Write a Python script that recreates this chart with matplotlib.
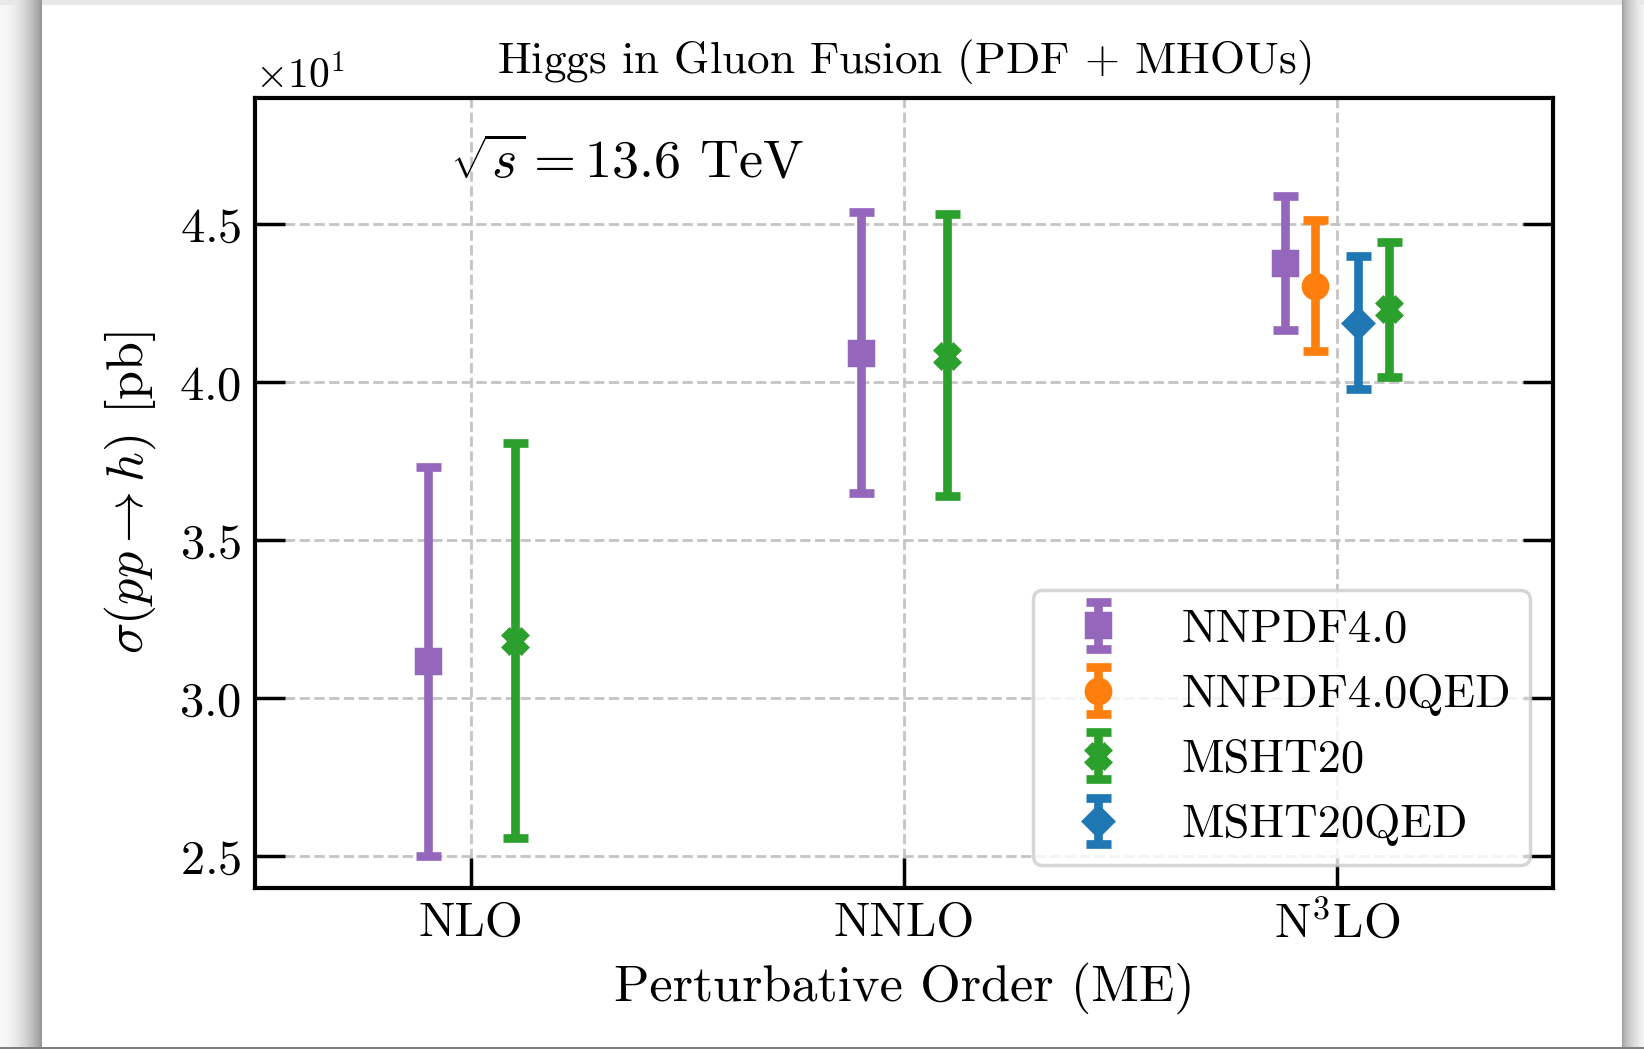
import numpy as np
import matplotlib
matplotlib.use('Agg')
import matplotlib.pyplot as plt
from matplotlib.ticker import ScalarFormatter, MultipleLocator

plt.rcParams['font.family'] = 'serif'
plt.rcParams['font.serif'] = ['cmr10']
plt.rcParams['mathtext.fontset'] = 'cm'
plt.rcParams['axes.formatter.use_mathtext'] = True
plt.rcParams['axes.unicode_minus'] = False

# perturbative orders on the x axis
orders = ['NLO', 'NNLO', r'N$^3$LO']

# cross sections [pb]: central value, upper and lower edge of the band
nnpdf40 = [31.18, 40.93, 43.78]
nnpdf40_up = [37.33, 45.40, 45.90]
nnpdf40_dn = [25.02, 36.50, 41.66]

msht20 = [31.81, 40.82, 42.32]
msht20_up = [38.07, 45.33, 44.45]
msht20_dn = [25.57, 36.42, 40.16]

# QED sets only at N3LO
nnpdf40qed = [43.06]
nnpdf40qed_up = [45.14]
nnpdf40qed_dn = [40.99]

msht20qed = [41.88]
msht20qed_up = [43.99]
msht20qed_dn = [39.80]

W, H, DPI = 1644, 1049, 250


def card_background():
    # white card with a soft grey shadow round it
    bg = np.ones((H, W, 3))
    t = np.linspace(0, 1, 42)
    bg[:, :42, :] = (0.97 - 0.38 * t ** 2)[None, :, None]
    t = np.linspace(0, 1, 22)
    bg[:, 1622:, :] = (0.62 + 0.34 * t ** 0.6)[None, :, None]
    bg[:5, :, :] = np.minimum(bg[:5, :, :], 0.91)
    bg[-2:, :, :] = 0.5
    return bg


def draw(ax, x, y, up, dn, color, marker, label, ms=7):
    y = np.array(y)
    yerr = [y - np.array(dn), np.array(up) - y]
    ax.errorbar(x, y, yerr=yerr, fmt=marker, color=color, ms=ms,
                elinewidth=2.5, capsize=3.6, capthick=2.5, label=label, zorder=3)


def main():
    fig = plt.figure(figsize=(W / DPI, H / DPI), dpi=DPI)
    fig.figimage(card_background(), xo=0, yo=0, origin='upper', zorder=-10)
    ax = fig.add_axes([255 / W, 1 - 888 / H, (1553 - 255) / W, (888 - 98) / H])

    pos = np.arange(len(orders))
    draw(ax, pos - 0.1 * (pos < 2) - 0.12 * (pos == 2), nnpdf40, nnpdf40_up, nnpdf40_dn,
         '#9467bd', 's', 'NNPDF4.0')
    draw(ax, pos[2:] - 0.05, nnpdf40qed, nnpdf40qed_up, nnpdf40qed_dn,
         '#ff7f0e', 'o', 'NNPDF4.0QED')
    draw(ax, pos + 0.1 * (pos < 2) + 0.12 * (pos == 2), msht20, msht20_up, msht20_dn,
         '#2ca02c', 'X', 'MSHT20')
    draw(ax, pos[2:] + 0.05, msht20qed, msht20qed_up, msht20qed_dn,
         '#1f77b4', 'D', 'MSHT20QED', ms=6)

    ax.set_xlim(-0.5, 2.5)
    ax.set_ylim(24.0, 49.0)
    ax.set_xticks(pos)
    ax.set_xticklabels(orders)
    ax.yaxis.set_major_locator(MultipleLocator(5))
    fmt = ScalarFormatter(useMathText=True)
    fmt.set_powerlimits((0, 0))
    ax.yaxis.set_major_formatter(fmt)
    ax.yaxis.get_offset_text().set_fontsize(12)

    ax.tick_params(axis='both', direction='in', length=8.5, width=1.0, labelsize=14, pad=4)
    ax.tick_params(axis='y', right=True)
    ax.tick_params(axis='x', top=False)
    for s in ax.spines.values():
        s.set_linewidth(1.2)
    ax.grid(True, linestyle='--', color='#c4c4c4', linewidth=0.8, zorder=0)
    ax.set_axisbelow(True)

    ax.set_title(r'Higgs in Gluon Fusion (PDF $+$ MHOUs)', fontsize=13, pad=7)
    ax.set_xlabel('Perturbative Order (ME)', fontsize=15, labelpad=4)
    ax.set_ylabel(r'$\sigma(pp \to h)$ [pb]', fontsize=15, labelpad=6)
    ax.text(0.15, 0.918, r'$\sqrt{s} = 13.6$ TeV', fontsize=15.6, ha='left', va='center',
            transform=ax.transAxes)

    ax.legend(loc='lower right', fontsize=13.4, borderaxespad=0.5)
    fig.savefig('out.png', dpi=DPI)


if __name__ == '__main__':
    main()
